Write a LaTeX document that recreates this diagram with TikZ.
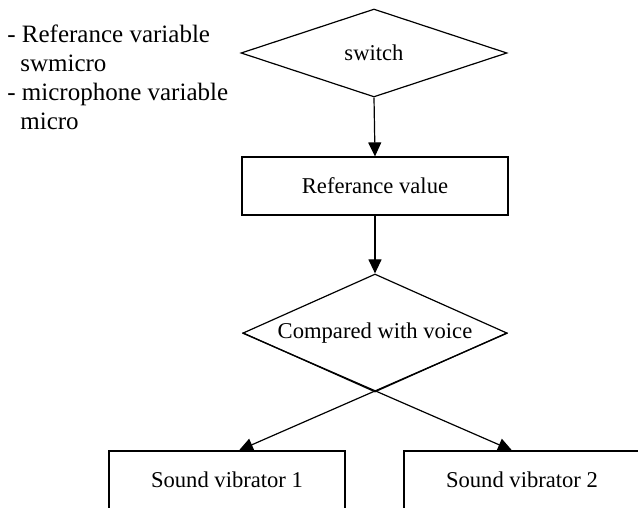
\documentclass[tikz,border=0pt]{standalone}
\usepackage{fontspec}
\setmainfont{Liberation Serif}
\usetikzlibrary{shapes.geometric,arrows.meta,positioning}

\tikzset{
  decision/.style={diamond, draw, line width=0.6pt, inner sep=0pt},
  block/.style={rectangle, draw, line width=0.6pt, inner sep=0pt,
    minimum height=29pt},
  line/.style={draw, line width=0.6pt, -{Triangle[length=7pt,width=6.5pt]}}
}

\begin{document}
\begin{tikzpicture}[x=0.5pt, y=-0.5pt,
    every node/.style={font=\fontsize{11.3}{14.5}\selectfont}]
  \clip (0,0) rectangle (638,508);

  % notes on the variables
  \node[anchor=north west, inner sep=0pt, align=left,
    font=\fontsize{12.5}{14.5}\selectfont] (vars) at (7,24)
    {- Referance variable\\\hspace*{6.5pt}swmicro\\
     - microphone variable\\\hspace*{6.5pt}micro};

  % main chain
  \node[decision, aspect=3, minimum width=133pt, minimum height=44pt] (sw)
    at (374,53) {switch};
  \node[block, minimum width=133pt] (ref) at (375,186) {Referance value};
  \node[decision, aspect=2.24, minimum width=132pt, minimum height=59pt] (cmp)
    at (375,333) {Compared with voice};

  % outputs
  \node[block, minimum width=118pt] (sv1) at (227,480) {Sound vibrator 1};
  \node[block, minimum width=118pt] (sv2) at (522,480) {Sound vibrator 2};

  \path[line] (sw.south) -- (ref.north);
  \path[line] (ref.south) -- (cmp.north);
  % the two outputs cross below the decision
  \path[line] (cmp.east) -- ([xshift=6pt]sv1.north);
  \path[line] (cmp.west) -- ([xshift=-5pt]sv2.north);
\end{tikzpicture}
\end{document}
